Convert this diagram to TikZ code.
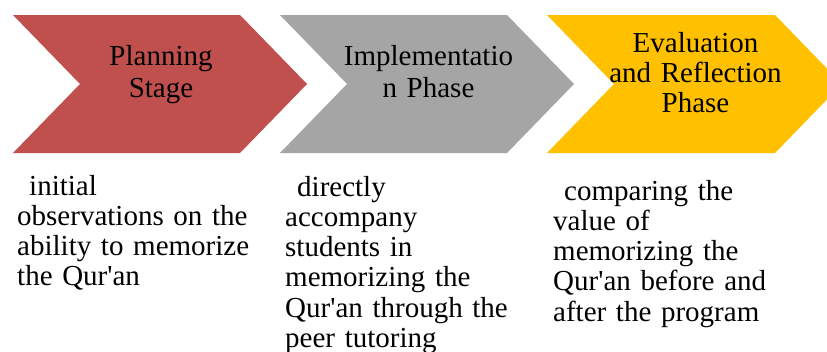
\documentclass[tikz,border=0pt]{standalone}
\usepackage{fontspec}
\setmainfont{Liberation Serif}
\definecolor{cred}{HTML}{C0504D}
\definecolor{cgray}{HTML}{A5A5A5}
\definecolor{cyel}{HTML}{FFC000}
\newcommand{\apos}{\textquotesingle}
\begin{document}
\begin{tikzpicture}[x=1pt,y=-1pt,
  headtxt/.style={inner sep=0pt,anchor=base,text width=220pt,align=center,font=\fontsize{29}{#1}\selectfont},
  bodytxt/.style={inner sep=0pt,anchor=base west,text width=260pt,align=left,font=\fontsize{29}{30.3}\selectfont}]
\useasboundingbox (0,0) rectangle (827,351);
\clip (0,0) rectangle (827,351);
\fill[white] (0,0) rectangle (827,351);
\fill[cred] (13,15) -- (240,15) -- (307,84) -- (240,153) -- (13,153) -- (80,84) -- cycle;
\fill[cgray] (280,15) -- (507,15) -- (574,84) -- (507,153) -- (280,153) -- (347,84) -- cycle;
\fill[cyel] (547,15) -- (775,15) -- (842,84) -- (775,153) -- (547,153) -- (614,84) -- cycle;
\node[headtxt=32pt] (h1) at (161,65) {Planning\\Stage};
\node[headtxt=32pt] (h2) at (428.5,65) {Implementatio\\n Phase};
\node[headtxt=30pt] (h3) at (695.5,52) {Evaluation\\and Reflection\\Phase};
\node[bodytxt] (b1) at (17,195) {\hspace*{12pt}initial\\observations on the\\ability to memorize\\the Qur\apos an};
\node[bodytxt] (b2) at (285,196) {\hspace*{12pt}directly\\accompany\\students in\\memorizing the\\Qur\apos an through the\\peer tutoring};
\node[bodytxt] (b3) at (553,200) {\hspace*{11pt}comparing the\\value of\\memorizing the\\Qur\apos an before and\\after the program};
\end{tikzpicture}
\end{document}
